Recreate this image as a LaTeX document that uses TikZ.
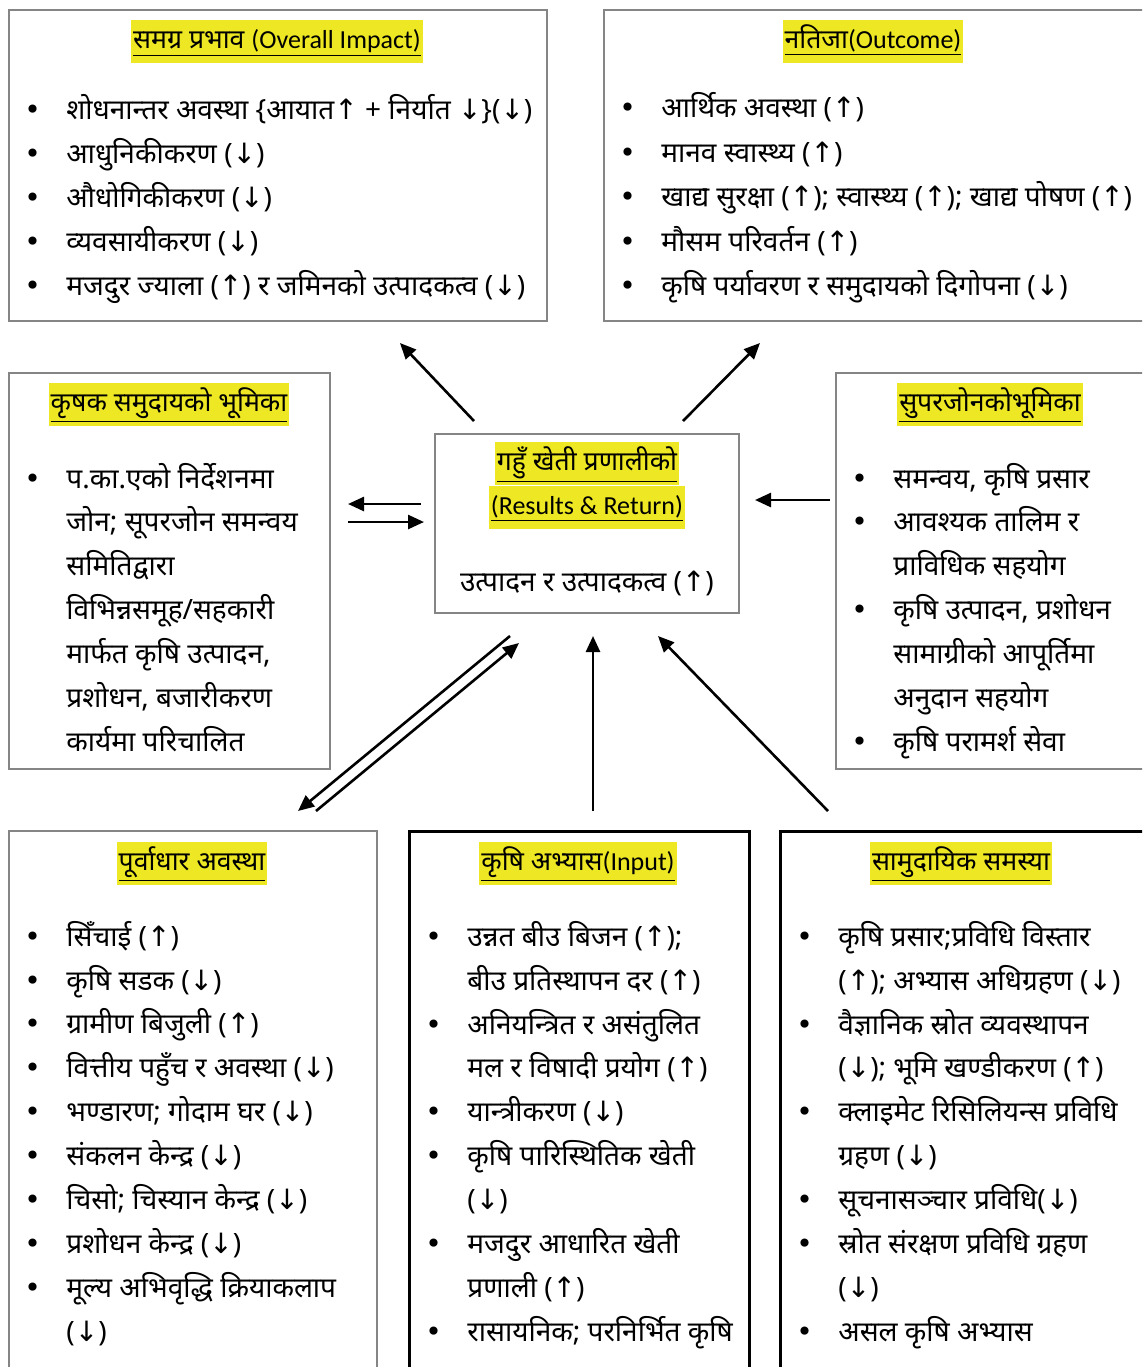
\documentclass[tikz,border=0pt]{standalone}
\usepackage{fontspec}
\setmainfont{Noto Sans}[Script=Devanagari]
\newfontfamily\latinf{Carlito}
\newfontfamily\djv{DejaVu Sans}
\usetikzlibrary{arrows.meta}
\newcommand\arrU{{\djv ↑}}
\newcommand\arrD{{\djv ↓}}
\newcommand\bl{\llap{\makebox[21pt][l]{\djv •}}}
\definecolor{hl}{HTML}{EDE823}
\definecolor{bx}{HTML}{858585}
\tikzset{
 boxg/.style={draw=bx, line width=0.75pt, anchor=north west, inner sep=0pt},
 boxk/.style={draw=black, line width=1.3pt, anchor=north west, inner sep=0pt},
 ttl/.style={fill=hl, anchor=base, inner xsep=1pt, inner ysep=3.25pt, text height=11pt, text depth=4pt, font=\fontsize{13.3}{16}\selectfont},
 txt/.style={anchor=base west, inner sep=0pt, font=\fontsize{14}{16}\selectfont},
 arr/.style={line width=1.3pt, -{Triangle[length=8pt,width=7pt]}},
}
\begin{document}
\begin{tikzpicture}[x=0.5pt,y=-0.5pt]
\fill[white] (0,0) rectangle (1142,1367);
\path[use as bounding box, clip] (0,0) rectangle (1142,1367);

% boxes
\node[boxg, minimum width=269pt, minimum height=155.5pt] (tl) at (8,9) {};
\node[boxg, minimum width=270.5pt, minimum height=155.5pt] (tr) at (603,9) {};
\node[boxg, minimum width=160.5pt, minimum height=198pt] (ml) at (8,372) {};
\node[boxg, minimum width=154.5pt, minimum height=198pt] (mr) at (835,372) {};
\node[boxg, minimum width=152pt, minimum height=89.5pt] (cc) at (434,433) {};
\node[boxg, minimum width=184pt, minimum height=280pt] (bl) at (8,830) {};
\node[boxk, minimum width=170pt, minimum height=280pt] (bm) at (408,830) {};
\node[boxk, minimum width=182.5pt, minimum height=280pt] (br) at (779,830) {};

% titles
\node[ttl] (tlT) at (277,48) {\underline{समग्र प्रभाव {\latinf\fontsize{13}{16}\selectfont (Overall Impact)}}};
\node[ttl] (trT) at (873,48) {\underline{नतिजा{\latinf\fontsize{13}{16}\selectfont (Outcome)}}};
\node[ttl] (mlT) at (169,411) {\underline{कृषक समुदायको भूमिका}};
\node[ttl] (mrT) at (990,411) {\underline{सुपरजोनकोभूमिका}};
\node[ttl] (ccT1) at (587,470) {\underline{गहुँ खेती प्रणालीको}};
\node[ttl] (ccT2) at (587,514) {\underline{\latinf\fontsize{13}{16}\selectfont (Results \& Return)}};
\node[ttl] (blT) at (192,870) {\underline{पूर्वाधार अवस्था}};
\node[ttl] (bmT) at (578,870) {\underline{कृषि अभ्यास{\latinf\fontsize{13}{16}\selectfont (Input)}}};
\node[ttl] (brT) at (961,870) {\underline{सामुदायिक समस्या}};

% top-left
\node[txt] (tl1) at (66,119) {\bl शोधनान्तर अवस्था \{आयात\arrU{} + निर्यात \arrD\}(\arrD)};
\node[txt] (tl2) at (66,163) {\bl आधुनिकीकरण (\arrD)};
\node[txt] (tl3) at (66,207) {\bl औधोगिकीकरण (\arrD)};
\node[txt] (tl4) at (66,251) {\bl व्यवसायीकरण (\arrD)};
\node[txt] (tl5) at (66,295) {\bl मजदुर ज्याला (\arrU) र जमिनको उत्पादकत्व (\arrD)};

% top-right
\node[txt] (tr1) at (661,117) {\bl आर्थिक अवस्था (\arrU)};
\node[txt] (tr2) at (661,162) {\bl मानव स्वास्थ्य (\arrU)};
\node[txt] (tr3) at (661,206) {\bl खाद्य सुरक्षा (\arrU); स्वास्थ्य (\arrU); खाद्य पोषण (\arrU)};
\node[txt] (tr4) at (661,251) {\bl मौसम परिवर्तन (\arrU)};
\node[txt] (tr5) at (661,295) {\bl कृषि पर्यावरण र समुदायको दिगोपना (\arrD)};

% middle-left
\node[txt] (ml1) at (66,488) {\bl प.का.एको निर्देशनमा};
\node[txt] (ml2) at (66,531) {जोन; सूपरजोन समन्वय};
\node[txt] (ml3) at (66,575) {समितिद्वारा};
\node[txt] (ml4) at (66,619) {विभिन्नसमूह/सहकारी};
\node[txt] (ml5) at (66,663) {मार्फत कृषि उत्पादन,};
\node[txt] (ml6) at (66,707) {प्रशोधन, बजारीकरण};
\node[txt] (ml7) at (66,751) {कार्यमा परिचालित};

% middle-right
\node[txt] (mr1) at (893,488) {\bl समन्वय, कृषि प्रसार};
\node[txt] (mr2) at (893,531) {\bl आवश्यक तालिम र};
\node[txt] (mr3) at (893,575) {प्राविधिक सहयोग};
\node[txt] (mr4) at (893,619) {\bl कृषि उत्पादन, प्रशोधन};
\node[txt] (mr5) at (893,663) {सामाग्रीको आपूर्तिमा};
\node[txt] (mr6) at (893,707) {अनुदान सहयोग};
\node[txt] (mr7) at (893,751) {\bl कृषि परामर्श सेवा};

% centre
\node[txt, anchor=base] (cc1) at (587,591) {उत्पादन र उत्पादकत्व (\arrU)};

% bottom-left
\node[txt] (bl1) at (66,946) {\bl सिँचाई (\arrU)};
\node[txt] (bl2) at (66,990) {\bl कृषि सडक (\arrD)};
\node[txt] (bl3) at (66,1033) {\bl ग्रामीण बिजुली (\arrU)};
\node[txt] (bl4) at (66,1077) {\bl वित्तीय पहुँच र अवस्था (\arrD)};
\node[txt] (bl5) at (66,1121) {\bl भण्डारण; गोदाम घर (\arrD)};
\node[txt] (bl6) at (66,1165) {\bl संकलन केन्द्र (\arrD)};
\node[txt] (bl7) at (66,1209) {\bl चिसो; चिस्यान केन्द्र (\arrD)};
\node[txt] (bl8) at (66,1253) {\bl प्रशोधन केन्द्र (\arrD)};
\node[txt] (bl9) at (66,1297) {\bl मूल्य अभिवृद्धि क्रियाकलाप};
\node[txt] (bl10) at (66,1341) {(\arrD)};

% bottom-middle
\node[txt] (bm1) at (467,946) {\bl उन्नत बीउ बिजन (\arrU);};
\node[txt] (bm2) at (467,990) {बीउ प्रतिस्थापन दर (\arrU)};
\node[txt] (bm3) at (467,1034) {\bl अनियन्त्रित र असंतुलित};
\node[txt] (bm4) at (467,1077) {मल र विषादी प्रयोग (\arrU)};
\node[txt] (bm5) at (467,1121) {\bl यान्त्रीकरण (\arrD)};
\node[txt] (bm6) at (467,1165) {\bl कृषि पारिस्थितिक खेती};
\node[txt] (bm7) at (467,1209) {(\arrD)};
\node[txt] (bm8) at (467,1253) {\bl मजदुर आधारित खेती};
\node[txt] (bm9) at (467,1297) {प्रणाली (\arrU)};
\node[txt] (bm10) at (467,1341) {\bl रासायनिक; परनिर्भित कृषि};

% bottom-right
\node[txt] (br1) at (838,946) {\bl कृषि प्रसार;प्रविधि विस्तार};
\node[txt] (br2) at (838,990) {(\arrU); अभ्यास अधिग्रहण (\arrD)};
\node[txt] (br3) at (838,1034) {\bl वैज्ञानिक स्रोत व्यवस्थापन};
\node[txt] (br4) at (838,1077) {(\arrD); भूमि खण्डीकरण (\arrU)};
\node[txt] (br5) at (838,1121) {\bl क्लाइमेट रिसिलियन्स प्रविधि};
\node[txt] (br6) at (838,1165) {ग्रहण (\arrD)};
\node[txt] (br7) at (838,1209) {\bl सूचनासञ्चार प्रविधि(\arrD)};
\node[txt] (br8) at (838,1253) {\bl स्रोत संरक्षण प्रविधि ग्रहण};
\node[txt] (br9) at (838,1297) {(\arrD)};
\node[txt] (br10) at (838,1341) {\bl असल कृषि अभ्यास};

% connector end points
\coordinate (p1s) at (474,421); \coordinate (p1e) at (400,343);
\coordinate (p2s) at (683,421); \coordinate (p2e) at (760,343);
\coordinate (p3s) at (421,504); \coordinate (p3e) at (348,504);
\coordinate (p4s) at (348,522); \coordinate (p4e) at (424,522);
\coordinate (p5s) at (830,500); \coordinate (p5e) at (755,500);
\coordinate (p6s) at (510,636); \coordinate (p6e) at (298,811);
\coordinate (p7s) at (316,811); \coordinate (p7e) at (519,643);
\coordinate (p8s) at (593,811); \coordinate (p8e) at (593,636);
\coordinate (p9s) at (828,811); \coordinate (p9e) at (658,636);

\draw[arr] (p1s) -- (p1e);
\draw[arr] (p2s) -- (p2e);
\draw[arr] (p3s) -- (p3e);
\draw[arr] (p4s) -- (p4e);
\draw[arr] (p5s) -- (p5e);
\draw[arr] (p6s) -- (p6e);
\draw[arr] (p7s) -- (p7e);
\draw[arr] (p8s) -- (p8e);
\draw[arr] (p9s) -- (p9e);
\end{tikzpicture}
\end{document}
